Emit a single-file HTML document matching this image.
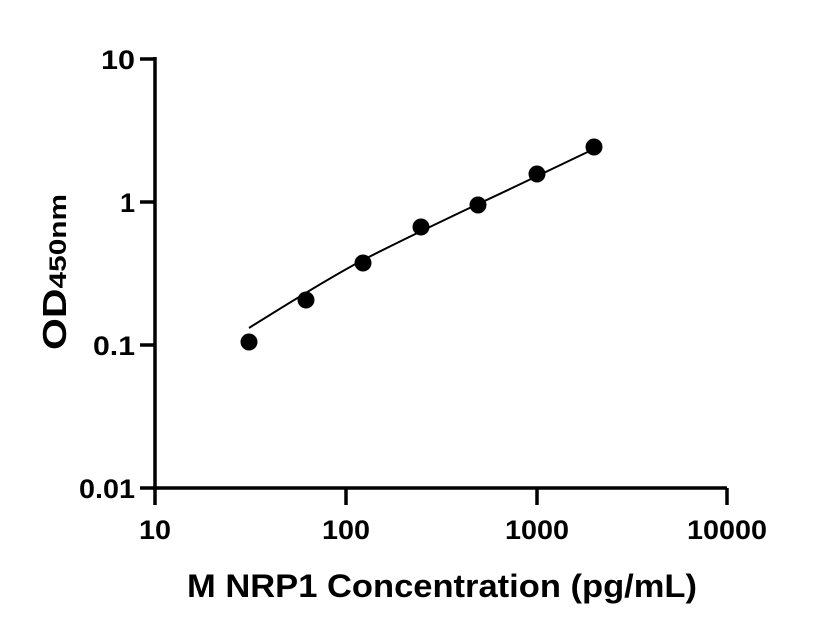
<!DOCTYPE html>
<html><head><style>body{margin:0;background:#fff}svg{display:block}</style></head><body>
<svg width="816" height="640" viewBox="0 0 816 640" xmlns="http://www.w3.org/2000/svg" font-family="Liberation Sans, sans-serif" font-weight="bold">
<rect width="816" height="640" fill="#fff"/>
<g stroke="#000" stroke-width="3.5" fill="none">
<path d="M155,57 V488 H727"/>
<path d="M140,59 H155 M140,202 H155 M140,345 H155 M140,488 H155"/>
<path d="M155,488 V505 M346,488 V505 M537,488 V505 M727,488 V505"/>
</g>
<g font-size="27" text-anchor="end" fill="#000">
<text x="135" y="69" textLength="34" lengthAdjust="spacingAndGlyphs">10</text>
<text x="135" y="212">1</text>
<text x="135" y="355" textLength="42" lengthAdjust="spacingAndGlyphs">0.1</text>
<text x="135" y="498" textLength="56" lengthAdjust="spacingAndGlyphs">0.01</text>
</g>
<g font-size="27" text-anchor="middle" fill="#000">
<text x="155" y="539" textLength="32" lengthAdjust="spacingAndGlyphs">10</text>
<text x="346" y="539" textLength="48" lengthAdjust="spacingAndGlyphs">100</text>
<text x="537" y="539" textLength="64" lengthAdjust="spacingAndGlyphs">1000</text>
<text x="727" y="539" textLength="80" lengthAdjust="spacingAndGlyphs">10000</text>
</g>
<text x="442" y="597" font-size="32" text-anchor="middle" textLength="510" lengthAdjust="spacingAndGlyphs">M NRP1 Concentration (pg/mL)</text>
<text transform="translate(66,272) rotate(-90)" font-size="33" text-anchor="middle" textLength="156" lengthAdjust="spacingAndGlyphs">OD<tspan font-size="24">450nm</tspan></text>
<path d="M249,328 C300,296 340,272 363,260 C400,241 440,222 478,204 C515,187 560,165 594,149" stroke="#000" stroke-width="2" fill="none"/>
<g fill="#000">
<circle cx="249" cy="342" r="8.5"/>
<circle cx="306" cy="300" r="8.5"/>
<circle cx="363" cy="263" r="8.5"/>
<circle cx="421" cy="227" r="8.5"/>
<circle cx="478" cy="205" r="8.5"/>
<circle cx="537" cy="174" r="8.5"/>
<circle cx="594" cy="147" r="8.5"/>
</g>
</svg>
</body></html>
